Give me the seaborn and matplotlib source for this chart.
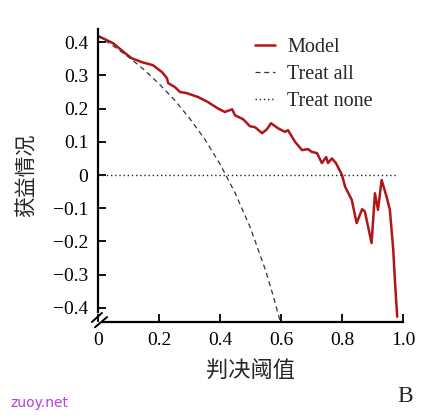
import matplotlib
matplotlib.use("Agg")
import matplotlib.pyplot as plt
import seaborn as sb
import pandas as pd

# curva do modelo
model_x = [0, 0.05, 0.089, 0.11, 0.144, 0.18, 0.21, 0.226, 0.23, 0.252, 0.269, 0.29, 0.328, 0.36,
           0.394, 0.416, 0.44, 0.449, 0.476, 0.498, 0.515, 0.538, 0.554, 0.567, 0.59, 0.613, 0.623,
           0.646, 0.669, 0.689, 0.70, 0.718, 0.734, 0.748, 0.754, 0.767, 0.78, 0.80, 0.81, 0.832,
           0.848, 0.866, 0.875, 0.897, 0.908, 0.918, 0.93, 0.946, 0.957, 0.968, 0.974, 0.981]
model_y = [0.419, 0.397, 0.367, 0.352, 0.34, 0.331, 0.31, 0.292, 0.277, 0.265, 0.25, 0.247, 0.235,
           0.22, 0.2, 0.19, 0.198, 0.18, 0.168, 0.147, 0.144, 0.126, 0.138, 0.156, 0.141, 0.13,
           0.135, 0.1, 0.075, 0.078, 0.07, 0.066, 0.036, 0.054, 0.036, 0.05, 0.036, 0.0, -0.035,
           -0.075, -0.145, -0.103, -0.11, -0.205, -0.055, -0.105, -0.015, -0.065, -0.105, -0.225,
           -0.326, -0.427]

# treat all
all_x = [0, 0.05, 0.1, 0.15, 0.2, 0.25, 0.3, 0.35, 0.4, 0.45, 0.5, 0.55, 0.575, 0.6]
all_y = [0.42, 0.389, 0.356, 0.318, 0.275, 0.227, 0.171, 0.108, 0.033, -0.055, -0.16, -0.289, -0.366, -0.45]

# treat none
none_x = [0, 0.98]
none_y = [0, 0]

xticks = [0, 0.2, 0.4, 0.6, 0.8, 1.0]
xticklabels = ["0", "0.2", "0.4", "0.6", "0.8", "1.0"]
yticks = [0.4, 0.3, 0.2, 0.1, 0, -0.1, -0.2, -0.3, -0.4]
yticklabels = ["0.4", "0.3", "0.2", "0.1", "0", "\u22120.1", "\u22120.2", "\u22120.3", "\u22120.4"]

sb.set_theme(style="ticks")
plt.rcParams['font.family'] = ['Liberation Serif', 'Noto Sans CJK SC']

fig = plt.figure(figsize=(4.3, 4.18), dpi=100)
ax = fig.add_axes([98/430, 1-322/418, 305/430, 293/418])

df_model = pd.DataFrame({"x": model_x, "y": model_y})
df_all = pd.DataFrame({"x": all_x, "y": all_y})
df_none = pd.DataFrame({"x": none_x, "y": none_y})

sb.lineplot(data=df_model, x="x", y="y", ax=ax, color="#b01518", linewidth=1.8,
            estimator=None, label="Model")
sb.lineplot(data=df_all, x="x", y="y", ax=ax, color="#333333", linewidth=0.9,
            estimator=None, label="Treat all", linestyle=(0, (4, 3)))
sb.lineplot(data=df_none, x="x", y="y", ax=ax, color="#222222", linewidth=1.0,
            estimator=None, label="Treat none", linestyle=(0, (1, 2)))

ax.set_xlim(0, 1.0)
ax.set_ylim(-0.443, 0.44)
ax.set_xticks(xticks)
ax.set_xticklabels(xticklabels)
ax.set_yticks(yticks)
ax.set_yticklabels(yticklabels)
ax.tick_params(direction="in", length=6, width=1.3, labelsize=14, pad=7, colors="black")

ax.spines["top"].set_visible(False)
ax.spines["right"].set_visible(False)
for s in ["left", "bottom"]:
    ax.spines[s].set_linewidth(1.6)
    ax.spines[s].set_color("black")
ax.spines["left"].set_bounds(-0.412, 0.44)
ax.spines["bottom"].set_bounds(0.016, 1.0)

# marcas de quebra no canto
kw = dict(transform=ax.transAxes, color="black", linewidth=1.4, clip_on=False)
ax.plot([-0.02, 0.013], [0.0, 0.031], **kw)
ax.plot([-0.01, 0.03], [-0.018, 0.017], **kw)

ax.set_xlabel("判决阈值", fontsize=16, family="Noto Sans CJK SC", va="top")
ax.xaxis.set_label_coords(0.5, (322-359)/293)
ax.set_ylabel("获益情况", fontsize=15, family="Noto Sans CJK SC")
ax.yaxis.set_label_coords((37-98)/305, 0.5)

leg = ax.legend(loc="upper left", bbox_to_anchor=((255-98)/305, (322-38)/293), frameon=False,
                fontsize=14.5, handlelength=1.0, labelspacing=0.38, handletextpad=0.6,
                borderaxespad=0, borderpad=0)

fig.text(405/430, 1-397/418, "B", fontsize=17, ha="center", va="center")
fig.text(10/430, 1-403/418, "zuoy.net", fontsize=10, color="#b83ee0", family="DejaVu Sans",
         ha="left", va="center")

fig.savefig("out.png", dpi=100)
